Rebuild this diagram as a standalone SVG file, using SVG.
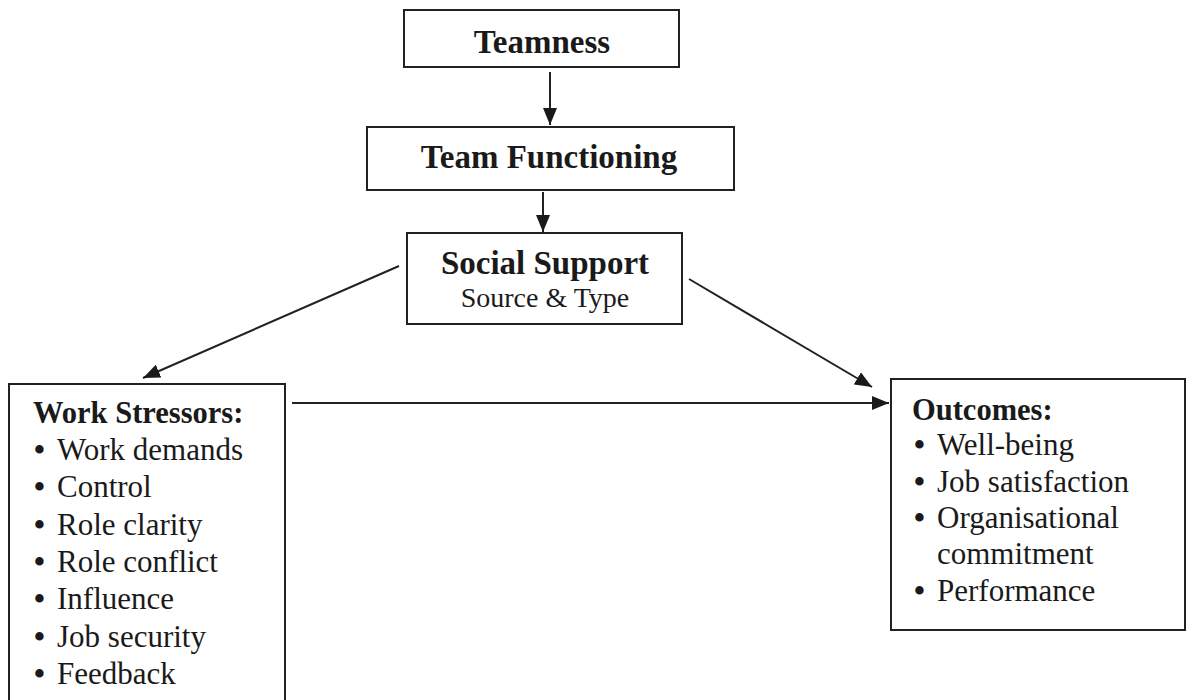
<svg xmlns="http://www.w3.org/2000/svg" width="1187" height="700" viewBox="0 0 1187 700">
<style>
.box{fill:#fff;stroke:#222;stroke-width:2}
.t{font-family:"Liberation Serif","Times New Roman",serif;fill:#1a1a1a}
.title{font-size:33px;font-weight:bold;text-anchor:middle}
.head{font-size:30.5px;font-weight:bold}
.item{font-size:31px}
.b{font-weight:bold}
.sub{font-size:28px;text-anchor:middle}
.c{stroke:#222;stroke-width:2;fill:none;marker-end:url(#ah)}
</style>
<defs>
<marker id="ah" markerUnits="userSpaceOnUse" markerWidth="17" markerHeight="14" refX="17" refY="7" orient="auto">
<path d="M0,0 L17,7 L0,14 z" fill="#1a1a1a"/>
</marker>
</defs>
<rect width="1187" height="700" fill="#fff"/>
<g id="teamness">
<rect class="box" x="404" y="10" width="275" height="57"/>
<text class="t title" x="542" y="53">Teamness</text>
</g>
<g id="team-functioning">
<rect class="box" x="367" y="127" width="367" height="63"/>
<text class="t title" x="549" y="168">Team Functioning</text>
</g>
<g id="social-support">
<rect class="box" x="407" y="233" width="275" height="91"/>
<text class="t title" x="545" y="274">Social Support</text>
<text class="t sub" x="545" y="307">Source &amp; Type</text>
</g>
<g id="work-stressors">
<rect class="box" x="9" y="384" width="276" height="330"/>
<text class="t head" x="33" y="423">Work Stressors:</text>
<text class="t item" y="460"><tspan class="b" x="34">•</tspan><tspan x="57">Work demands</tspan></text>
<text class="t item" y="497"><tspan class="b" x="34">•</tspan><tspan x="57">Control</tspan></text>
<text class="t item" y="535"><tspan class="b" x="34">•</tspan><tspan x="57">Role clarity</tspan></text>
<text class="t item" y="572"><tspan class="b" x="34">•</tspan><tspan x="57">Role conflict</tspan></text>
<text class="t item" y="609"><tspan class="b" x="34">•</tspan><tspan x="57">Influence</tspan></text>
<text class="t item" y="647"><tspan class="b" x="34">•</tspan><tspan x="57">Job security</tspan></text>
<text class="t item" y="684"><tspan class="b" x="34">•</tspan><tspan x="57">Feedback</tspan></text>
</g>
<g id="outcomes">
<rect class="box" x="891" y="379" width="294" height="251"/>
<text class="t head" x="912" y="420">Outcomes:</text>
<text class="t item" y="455"><tspan class="b" x="914">•</tspan><tspan x="937">Well-being</tspan></text>
<text class="t item" y="492"><tspan class="b" x="914">•</tspan><tspan x="937">Job satisfaction</tspan></text>
<text class="t item" y="528"><tspan class="b" x="914">•</tspan><tspan x="937">Organisational</tspan></text>
<text class="t item" y="564"><tspan x="937">commitment</tspan></text>
<text class="t item" y="601"><tspan class="b" x="914">•</tspan><tspan x="937">Performance</tspan></text>
</g>
<g id="connectors">
<line class="c" x1="550" y1="72" x2="550" y2="125"/>
<line class="c" x1="543" y1="192" x2="543" y2="232"/>
<line class="c" x1="399" y1="266" x2="143" y2="378"/>
<line class="c" x1="689" y1="279" x2="872" y2="387"/>
<line class="c" x1="292" y1="403" x2="889" y2="403"/>
</g>
</svg>
